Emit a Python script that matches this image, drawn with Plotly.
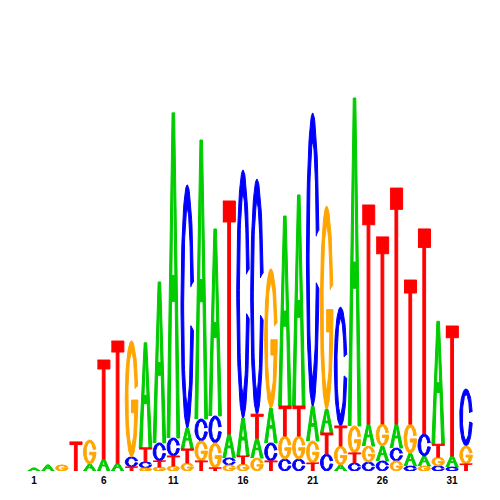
import numpy as np
import plotly.graph_objects as go

# sequence logo: information (bits) carried by each base at each position
positions = list(range(1, 33))

a_bits = [0.016, 0.032, 0.0, 0.0, 0.037, 0.063, 0.042, 0.0, 0.553, 0.847,
          1.711, 0.111, 1.468, 0.984, 0.126, 0.2, 0.105, 0.184, 1.0, 1.111,
          0.184, 0.126, 0.032, 1.726, 0.116, 0.079, 0.126, 0.068, 0.053, 0.647,
          0.058, 0.0]
c_bits = [0.0, 0.0, 0.0, 0.0, 0.0, 0.0, 0.0, 0.053, 0.032, 0.095,
          0.095, 1.279, 0.116, 0.142, 0.037, 1.305, 1.237, 0.095, 0.063, 0.063,
          1.542, 0.089, 0.626, 0.042, 0.047, 0.053, 0.068, 0.026, 0.116, 0.026,
          0.021, 0.3]
g_bits = [0.0, 0.0, 0.032, 0.0, 0.126, 0.0, 0.0, 0.611, 0.016, 0.021,
          0.026, 0.042, 0.105, 0.132, 0.032, 0.037, 0.068, 0.732, 0.121, 0.121,
          0.116, 1.068, 0.1, 0.142, 0.084, 0.116, 0.053, 0.153, 0.026, 0.047,
          0.0, 0.095]
t_bits = [0.0, 0.0, 0.0, 0.153, 0.0, 0.521, 0.642, 0.021, 0.074, 0.032,
          0.053, 0.074, 0.053, 0.016, 1.226, 0.042, 0.126, 0.053, 0.158, 0.158,
          0.042, 0.111, 0.105, 0.053, 1.153, 0.984, 1.242, 0.758, 1.079, 0.068,
          0.684, 0.037]

tick_vals = [1, 6, 11, 16, 21, 26, 31]
tick_text = ["1", "6", "11", "16", "21", "26", "31"]

colors = {"A": "#00CC00", "C": "#0000FF", "G": "#FFA500", "T": "#FF0000"}


# letter outlines in a unit box
def glyph_a():
    pts = [(0, 0), (0.4, 1), (0.6, 1), (1, 0), (0.78, 0), (0.646, 0.42),
           (0.5, 0.42), (0.5, 0.5), (0.62, 0.5), (0.5, 0.875), (0.38, 0.5),
           (0.5, 0.5), (0.5, 0.42), (0.354, 0.42), (0.22, 0)]
    return [p[0] for p in pts], [p[1] for p in pts]


def glyph_c():
    t = np.linspace(0.2, 2 * np.pi - 0.2, 80)
    ox = 0.5 + 0.5 * np.cos(t)
    oy = 0.5 + 0.5 * np.sin(t)
    ix = 0.5 + 0.29 * np.cos(t[::-1])
    iy = 0.5 + 0.4 * np.sin(t[::-1])
    return list(ox) + list(ix), list(oy) + list(iy)


def glyph_g():
    t_out = np.linspace(0.22, 2 * np.pi - 0.02, 80)
    t_in = np.linspace(2 * np.pi - 0.53, 0.22, 70)
    xs = list(0.5 + 0.5 * np.cos(t_out))
    ys = list(0.5 + 0.5 * np.sin(t_out))
    xs += [0.5, 0.5, 0.75]
    ys += [0.49, 0.38, 0.38]
    xs += list(0.5 + 0.29 * np.cos(t_in))
    ys += list(0.5 + 0.4 * np.sin(t_in))
    return xs, ys


def glyph_t():
    xs = [0, 1, 1, 0.61, 0.61, 0.39, 0.39, 0]
    ys = [1, 1, 0.91, 0.91, 0, 0, 0.91, 0.91]
    return xs, ys


glyphs = {"A": glyph_a(), "C": glyph_c(), "G": glyph_g(), "T": glyph_t()}
heights = {"A": a_bits, "C": c_bits, "G": g_bits, "T": t_bits}

letter_w = 0.9
paths = {k: ([], []) for k in glyphs}
for i, pos in enumerate(positions):
    # smallest letter at the bottom, tallest on top
    stack = sorted(glyphs.keys(), key=lambda k: heights[k][i])
    base = 0.0
    for k in stack:
        h = heights[k][i]
        if h <= 0:
            continue
        gx, gy = glyphs[k]
        px, py = paths[k]
        px.extend([pos - letter_w / 2 + letter_w * x for x in gx] + [None])
        py.extend([base + h * y for y in gy] + [None])
        base += h

fig = go.Figure()
for k in ["A", "C", "G", "T"]:
    fig.add_trace(go.Scatter(
        x=paths[k][0], y=paths[k][1],
        mode="lines", fill="toself",
        fillcolor=colors[k],
        line=dict(color=colors[k], width=1),
        hoverinfo="skip", name=k,
    ))

# margins allow for the page's 8px body margin
fig.update_layout(
    width=500, height=500,
    margin=dict(l=19, r=35, t=83, b=37),
    paper_bgcolor="white", plot_bgcolor="white",
    showlegend=False,
    xaxis=dict(
        range=[0.5, 32.5],
        tickvals=tick_vals, ticktext=tick_text,
        showgrid=False, zeroline=False, showline=False, ticks="",
        ticklabelstandoff=2,
        tickfont=dict(family="Arial, Liberation Sans", size=10,
                      color="black", weight="bold"),
    ),
    yaxis=dict(range=[0, 2], visible=False),
)

fig.write_html("out.html")
